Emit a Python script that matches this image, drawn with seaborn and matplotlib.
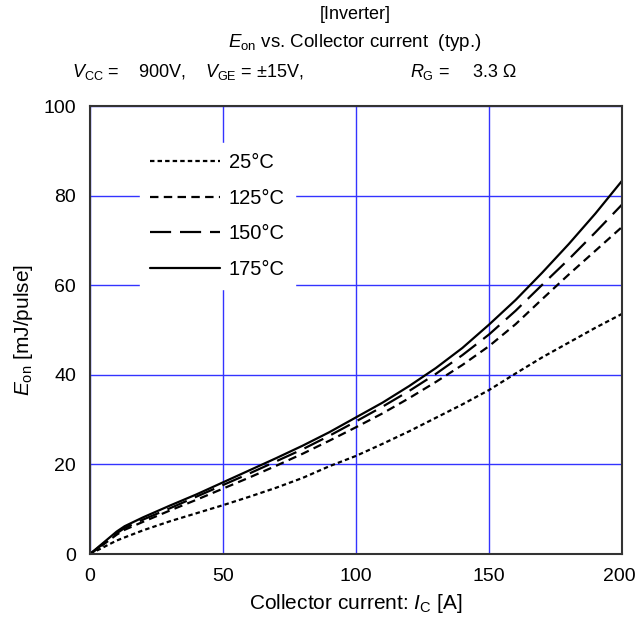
import numpy as np
import pandas as pd
import matplotlib
matplotlib.use("Agg")
import matplotlib.pyplot as plt
import matplotlib.transforms as mtransforms
import seaborn as sns
from matplotlib.ticker import MultipleLocator

# collector current [A]
ic = [0, 5, 10, 13, 20, 30, 40, 50, 60, 70, 80, 90, 100,
      110, 120, 130, 140, 150, 160, 170, 180, 190, 200]
# Eon [mJ/pulse] per junction temperature
eon_25 = [0, 1.5, 3.0, 3.7, 5.3, 7.3, 9.1, 10.9, 12.8, 14.8, 17.0, 19.6, 21.9,
          24.6, 27.4, 30.4, 33.4, 36.6, 40.3, 43.9, 47.2, 50.5, 53.6]
eon_125 = [0, 2.1, 4.3, 5.4, 7.2, 9.7, 12.1, 14.6, 17.1, 19.7, 22.4, 25.3, 28.3,
           31.4, 34.8, 38.4, 42.2, 46.4, 51.3, 56.9, 62.4, 67.7, 73.0]
eon_150 = [0, 2.3, 4.6, 5.8, 7.7, 10.2, 12.8, 15.4, 18.0, 20.7, 23.4, 26.4, 29.6,
           32.9, 36.4, 40.2, 44.4, 49.0, 54.3, 60.1, 65.8, 71.8, 78.0]
eon_175 = [0, 2.5, 5.0, 6.2, 8.2, 10.8, 13.3, 16.0, 18.7, 21.4, 24.2, 27.2, 30.5,
           33.8, 37.5, 41.5, 46.0, 51.2, 56.7, 62.8, 69.2, 76.0, 83.3]
labels = ["25°C", "125°C", "150°C", "175°C"]
x_ticks = [0, 50, 100, 150, 200]
x_ticklabels = ["0", "50", "100", "150", "200"]

sns.set_style("white")
plt.rcParams["font.family"] = ["Liberation Sans", "DejaVu Sans"]
plt.rcParams["mathtext.fontset"] = "custom"
plt.rcParams["mathtext.rm"] = "Liberation Sans"
plt.rcParams["mathtext.it"] = "Liberation Sans:italic"
for k in ["text.color", "axes.labelcolor", "xtick.color", "ytick.color"]:
    plt.rcParams[k] = "black"

df = pd.DataFrame({"ic": ic, "25°C": eon_25, "125°C": eon_125,
                   "150°C": eon_150, "175°C": eon_175})

fig = plt.figure(figsize=(6.36, 6.28), dpi=100)
ax = fig.add_axes([0.1415, 0.1178, 0.8365, 0.7134])

styles = {
    "25°C": (0, (2.0, 1.4)),
    "125°C": (0, (3.8, 2.4)),
    "150°C": (0, (9.5, 4.0)),
    "175°C": "-",
}
for lab in labels:
    sns.lineplot(data=df, x="ic", y=lab, ax=ax, color="black", lw=1.6,
                 linestyle=styles[lab], label=lab)

ax.set_xlim(0, 200)
ax.set_ylim(0, 100)
ax.set_xticks(x_ticks, x_ticklabels)
ax.yaxis.set_major_locator(MultipleLocator(20))
ax.xaxis.set_minor_locator(MultipleLocator(10))
ax.yaxis.set_minor_locator(MultipleLocator(4))
ax.tick_params(which="both", direction="in", color="#333333")
ax.tick_params(which="major", length=0, labelsize=14, pad=10)
ax.tick_params(which="minor", length=5, width=1)
ax.grid(True, which="major", color="#3333ff", lw=1)
for s in ax.spines.values():
    s.set_color("#333333")
    s.set_linewidth(1.5)

# nudge "200" a little left so it stays inside the figure
last = ax.xaxis.get_major_ticks()[-1].label1
last.set_transform(last.get_transform() +
                   mtransforms.ScaledTranslation(-3 / 100, 0, fig.dpi_scale_trans))

ax.set_xlabel("Collector current: $\\mathit{I}_{\\mathrm{C}}$ [A]", fontsize=15, labelpad=5)
ax.set_ylabel("$\\mathit{E}_{\\mathrm{on}}$ [mJ/pulse]", fontsize=15, labelpad=6)

leg = ax.legend(loc="upper left", bbox_to_anchor=(0.094, 0.917), frameon=True,
                fontsize=14.5, handlelength=3.45, handletextpad=0.45,
                labelspacing=0.82, borderpad=0.5, borderaxespad=0, fancybox=False)
leg.get_frame().set_facecolor("white")
leg.get_frame().set_edgecolor("white")
leg.get_frame().set_alpha(1)

fig.text(0.558, 0.977, "[Inverter]", ha="center", va="center", fontsize=13)
fig.text(0.558, 0.932, "$\\mathit{E}_{\\mathrm{on}}$ vs. Collector current  (typ.)",
         ha="center", va="center", fontsize=13.5)
fig.text(0.113, 0.885, "$\\mathit{V}_{\\mathrm{CC}}$ =    900V,", ha="left", va="center", fontsize=13)
fig.text(0.322, 0.885, "$\\mathit{V}_{\\mathrm{GE}}$ = ±15V,", ha="left", va="center", fontsize=13)
fig.text(0.645, 0.885, "$\\mathit{R}_{\\mathrm{G}}$ =", ha="left", va="center", fontsize=13)
fig.text(0.744, 0.885, "3.3 Ω", ha="left", va="center", fontsize=13)

fig.savefig("out.png", dpi=100)
plt.close(fig)
